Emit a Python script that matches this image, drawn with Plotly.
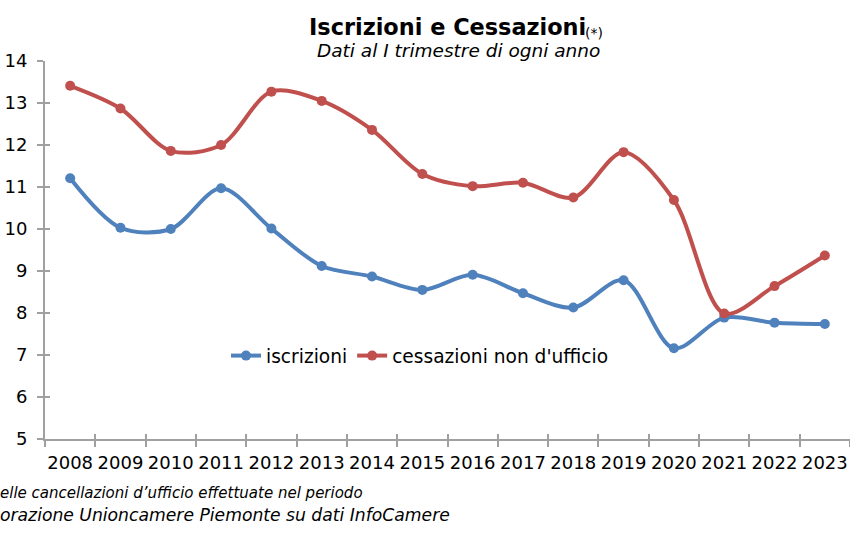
import plotly.graph_objects as go

years = [str(y) for y in range(2008, 2024)]
iscrizioni = [11.21, 10.03, 10.0, 10.97, 10.01, 9.12, 8.87, 8.55, 8.91, 8.47, 8.13, 8.78, 7.16, 7.89, 7.77, 7.74]
cessazioni = [13.41, 12.87, 11.86, 12.0, 13.27, 13.05, 12.36, 11.31, 11.02, 11.1, 10.75, 11.83, 10.69, 7.99, 8.64, 9.37]
y_ticks = [5, 6, 7, 8, 9, 10, 11, 12, 13, 14]

BLUE = "#4F81BD"
RED = "#C0504D"
AXIS = "#A0A0A0"
FONT = "DejaVu Sans"

W, H = 850, 540
L, R, T, B = 45, 0, 61, 101
pw = W - L - R
ph = H - T - B

def px(x):
    return (x - L) / pw

def py(y):
    return (H - B - y) / ph

fig = go.Figure()
fig.add_trace(go.Scatter(
    x=years, y=iscrizioni, name="iscrizioni", mode="lines+markers",
    line=dict(color=BLUE, width=4, shape="spline", smoothing=0.9),
    marker=dict(color=BLUE, size=10),
))
fig.add_trace(go.Scatter(
    x=years, y=cessazioni, name="cessazioni non d'ufficio", mode="lines+markers",
    line=dict(color=RED, width=4, shape="spline", smoothing=0.9),
    marker=dict(color=RED, size=10),
))

fig.update_layout(
    width=W, height=H,
    margin=dict(l=L, r=R, t=T, b=B, autoexpand=False),
    paper_bgcolor="white", plot_bgcolor="white",
    font=dict(family=FONT, size=18, color="#000000"),
    showlegend=True,
    legend=dict(
        orientation="h", x=px(226), y=py(356), xanchor="left", yanchor="middle",
        font=dict(family=FONT, size=18.6, color="#000000"),
        bgcolor="rgba(0,0,0,0)", itemwidth=30, tracegroupgap=0,
    ),
    xaxis=dict(
        type="category", categoryorder="array", categoryarray=years,
        range=[-0.5, 15.5], showgrid=False, zeroline=False,
        showline=True, linecolor=AXIS, linewidth=2,
        ticks="outside", tickson="boundaries", ticklen=6, tickwidth=1.5, tickcolor=AXIS,
        tickfont=dict(family=FONT, size=18, color="#000000"),
        tickangle=0, ticklabelstandoff=6, automargin=False,
    ),
    yaxis=dict(
        range=[5, 14], tickvals=y_ticks, showgrid=False, zeroline=False,
        showline=True, linecolor=AXIS, linewidth=2,
        ticks="outside", ticklen=6, tickwidth=1.5, tickcolor=AXIS,
        tickfont=dict(family=FONT, size=18, color="#000000"),
        ticklabelstandoff=6, automargin=False,
    ),
    xaxis2=dict(
        type="category", categoryorder="array", categoryarray=years,
        range=[-0.5, 15.5], overlaying="x", showgrid=False, zeroline=False,
        showline=False, ticks="inside", tickson="boundaries", ticklen=5,
        tickwidth=1.5, tickcolor=AXIS, showticklabels=False, matches="x",
    ),
    yaxis2=dict(
        range=[5, 14], tickvals=y_ticks, overlaying="y", showgrid=False,
        zeroline=False, showline=False, ticks="inside", ticklen=5,
        tickwidth=1.5, tickcolor=AXIS, showticklabels=False,
    ),
)

# invisible trace to activate the overlay axes (cross ticks)
fig.add_trace(go.Scatter(x=years, y=iscrizioni, xaxis="x2", yaxis="y2",
                         mode="none", showlegend=False, hoverinfo="skip"))

fig.add_annotation(
    xref="paper", yref="paper", x=px(307), y=py(27), xanchor="left", yanchor="middle",
    text="<b>Iscrizioni e Cessazioni</b>", showarrow=False,
    font=dict(family=FONT, size=22.4, color="#000000"),
)
fig.add_annotation(
    xref="paper", yref="paper", x=px(583), y=py(33), xanchor="left", yanchor="middle",
    text="(*)", showarrow=False,
    font=dict(family=FONT, size=14, color="#000000"),
)
fig.add_annotation(
    xref="paper", yref="paper", x=px(458), y=py(51), xanchor="center", yanchor="middle",
    text="<i>Dati al I trimestre di ogni anno</i>", showarrow=False,
    font=dict(family=FONT, size=18.5, color="#000000"),
)
fig.add_annotation(
    xref="paper", yref="paper", x=px(-2), y=py(493), xanchor="left", yanchor="middle",
    text="<i>elle cancellazioni d’ufficio effettuate nel periodo</i>", showarrow=False,
    font=dict(family=FONT, size=15, color="#000000"),
)
fig.add_annotation(
    xref="paper", yref="paper", x=px(-2), y=py(515), xanchor="left", yanchor="middle",
    text="<i>orazione Unioncamere Piemonte su dati InfoCamere</i>", showarrow=False,
    font=dict(family=FONT, size=17.2, color="#000000"),
)

fig.write_html("out.html", config={"displayModeBar": False},
               post_script="document.body.style.margin='0';")
